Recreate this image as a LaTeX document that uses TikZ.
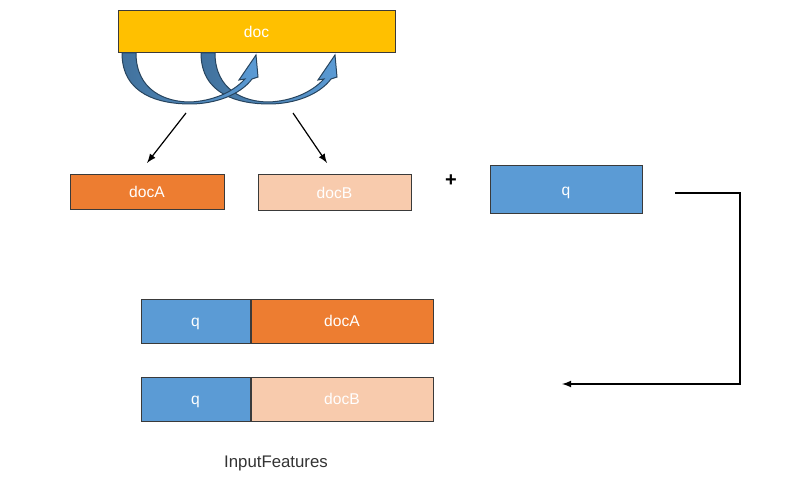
\documentclass[tikz,border=0pt]{standalone}
\usepackage{fontspec}
\setmainfont{Liberation Sans}
\usepackage{tikz}
\usetikzlibrary{arrows,positioning}

\definecolor{docyellow}{HTML}{FFC000}
\definecolor{docorange}{HTML}{ED7D31}
\definecolor{docpeach}{HTML}{F8CBAD}
\definecolor{qblue}{HTML}{5B9BD5}
\definecolor{qdark}{HTML}{41719C}
\definecolor{edgegray}{HTML}{3A3A3A}

\begin{document}
\begin{tikzpicture}[x=0.5pt,y=-0.5pt,>=latex,node distance=0pt]
  \tikzstyle{box}=[draw=edgegray,line width=0.5pt,text=white,inner sep=0pt,
                   text height=1.5ex,text depth=0.4ex,
                   font=\fontsize{7.8}{9}\selectfont]
  \tikzstyle{curly}=[draw=qdark!60!black,line width=0.5pt,left color=qdark,right color=qblue]

  \useasboundingbox (0,0) rectangle (798,492);

  \node[box,fill=docyellow,minimum width=138.5pt,minimum height=21pt] (doc) at (256.5,32) {doc};

  % the two swapped copies
  \path[curly,shift={(79,0)}]
    (122,53) .. controls (122,95) and (160,104) .. (190,104)
             .. controls (215,104) and (240,95) .. (252,79)
    -- (258,77) -- (256,55) -- (239,80) -- (245,79)
             .. controls (232,93) and (212,101) .. (190,102)
             .. controls (165,102) and (136,90) .. (136,53) -- cycle;
  \path[curly]
    (122,53) .. controls (122,95) and (160,104) .. (190,104)
             .. controls (215,104) and (240,95) .. (252,79)
    -- (258,77) -- (256,55) -- (239,80) -- (245,79)
             .. controls (232,93) and (212,101) .. (190,102)
             .. controls (165,102) and (136,90) .. (136,53) -- cycle;

  \node[box,fill=docorange,minimum width=77pt,minimum height=17pt] (docA) at (147,192) {docA};
  \node[box,fill=docpeach,minimum width=76.5pt,minimum height=17.5pt] (docB) at (334.5,192.5) {docB};
  \node[font=\fontsize{10}{11}\selectfont\bfseries] (plus) at (451,181) {+};
  \node[box,fill=qblue,minimum width=76pt,minimum height=23.5pt] (q) at (566,189.5) {q};

  \coordinate (splitA) at (186,113);
  \coordinate (splitB) at (293,113);
  \coordinate (intoA) at (147,163);
  \coordinate (intoB) at (327,163);
  \draw[->,line width=0.6pt] (splitA) -- (intoA);
  \draw[->,line width=0.6pt] (splitB) -- (intoB);

  % pairs
  \node[box,fill=qblue,minimum width=54.5pt,minimum height=22pt] (qA) at (195.5,321) {q};
  \node[box,fill=docorange,minimum width=91pt,minimum height=22pt,right=of qA] (pairA) {docA};
  \node[box,fill=qblue,minimum width=54.5pt,minimum height=22pt] (qB) at (195.5,399) {q};
  \node[box,fill=docpeach,minimum width=91pt,minimum height=22pt,right=of qB] (pairB) {docB};

  \node[text=black!80,font=\fontsize{8.4}{10}\selectfont] (feat) at (276,463) {InputFeatures};

  \coordinate (qout) at (675,193);
  \coordinate (qin) at (562,384);
  \draw[->,line width=0.6pt] (qout) -- (740,193) |- (qin);
\end{tikzpicture}
\end{document}
